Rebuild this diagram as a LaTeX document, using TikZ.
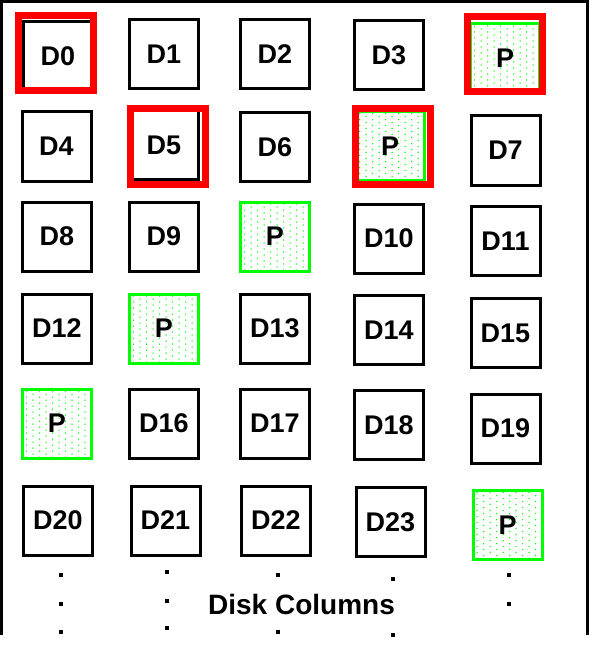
\documentclass[tikz,border=0pt]{standalone}
\usepackage{fontspec}
\setmainfont{Liberation Sans}
\usetikzlibrary{calc}
\definecolor{parc}{HTML}{00FF00}
\definecolor{hlc}{HTML}{FF0000}
\tikzset{
  disk/.style={draw=black, line width=3pt, minimum size=69pt, inner sep=0pt,
               font=\fontsize{27}{30}\selectfont\bfseries},
  parity/.style={disk, draw=parc,
    path picture={
      \foreach \i in {0,...,10} \foreach \j in {0,...,11} {
        \pgfmathsetmacro\off{mod(\i,2)*3}
        \fill[parc] ($(path picture bounding box.north west)+(\i*6.5+4,\j*6+\off+2)$)
          circle[radius=0.75pt];
      }}},
  hilite/.style={draw=hlc, line width=7pt, minimum size=75pt, inner sep=0pt},
  frame/.style={line width=3pt},
}
\newcommand{\disk}[3]{\node[disk] (#1) at #2 {#3};}
\newcommand{\pdisk}[2]{\node[parity] (#1) at #2 {P};}

\begin{document}
\begin{tikzpicture}[x=1pt, y=-1pt]
  \useasboundingbox (0,0) rectangle (589,647);
  \draw[frame] (1.5,635) -- (1.5,1.5) -- (587,1.5) -- (587,635);
  % row 1
  \disk{d0}{(58,56)}{D0}
  \disk{d1}{(164,54)}{D1}
  \disk{d2}{(275,54)}{D2}
  \disk{d3}{(389,55.5)}{D3}
  \pdisk{p1}{(505,58.5)}
  % row 2
  \disk{d4}{(56.5,146.5)}{D4}
  \disk{d5}{(164,145)}{D5}
  \disk{d6}{(275,147)}{D6}
  \pdisk{p2}{(390,146)}
  \disk{d7}{(505.5,150.5)}{D7}
  % row 3
  \disk{d8}{(57,236.5)}{D8}
  \disk{d9}{(164,236.5)}{D9}
  \pdisk{p3}{(275,236.5)}
  \disk{d10}{(389,238.5)}{D10}
  \disk{d11}{(505.5,241)}{D11}
  % row 4
  \disk{d12}{(57,328.5)}{D12}
  \pdisk{p4}{(164,328.5)}
  \disk{d13}{(275,328.5)}{D13}
  \disk{d14}{(389,330)}{D14}
  \disk{d15}{(505.5,333)}{D15}
  % row 5
  \pdisk{p5}{(57,423.5)}
  \disk{d16}{(164,423.5)}{D16}
  \disk{d17}{(275,423.5)}{D17}
  \disk{d18}{(389,425)}{D18}
  \disk{d19}{(505.5,428.5)}{D19}
  % row 6
  \disk{d20}{(58,520.5)}{D20}
  \disk{d21}{(165.5,520.5)}{D21}
  \disk{d22}{(276,520.5)}{D22}
  \disk{d23}{(390.5,522)}{D23}
  \pdisk{p6}{(507.5,525)}
  % one stripe
  \node[hilite] (h0) at (56,53.5) {};
  \node[hilite] (h5) at (168,146.5) {};
  \node[hilite] (hp2) at (392.5,146.5) {};
  \node[hilite] (hp1) at (505,54) {};
  % continuation dots
  \foreach \x/\y in {61/575, 61/604, 61/632, 167/572, 167/601, 167/628,
                     278/575, 278/632, 393/579, 393/635, 509/575, 509/604}
    \fill (\x-2,\y-2) rectangle (\x+2,\y+2);
  \node[font=\fontsize{28}{30}\selectfont\bfseries] (cols) at (301.5,604.5) {Disk Columns};
\end{tikzpicture}
\end{document}
